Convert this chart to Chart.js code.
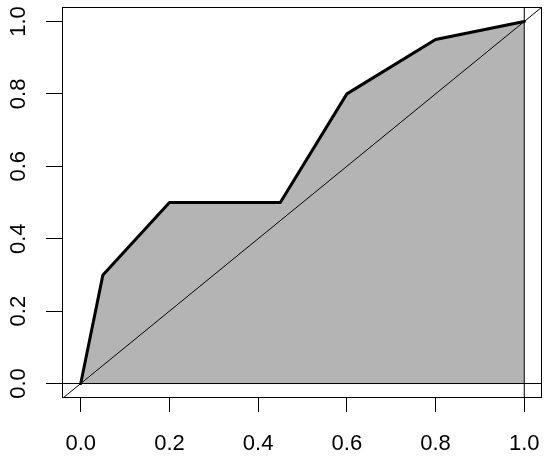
<!DOCTYPE html>
<html lang="en">
<head>
<meta charset="UTF-8">
<title>Curve vs diagonal</title>
<script src="https://cdn.jsdelivr.net/npm/chart.js"></script>
<style>
    body { margin: 0; background: #fff; }
    canvas { display: block; }
</style>
</head>
<body>
<canvas id="chart" width="551" height="463"></canvas>
<script>
// curve points
const curveX = [0, 0.05, 0.2, 0.45, 0.6, 0.8, 1.0];
const curveY = [0, 0.3, 0.5, 0.5, 0.8, 0.95, 1.0];

// tick labels on both axes
const tickValues = [0, 0.2, 0.4, 0.6, 0.8, 1.0];

// axis range (R style 4% extension)
const axisMin = -0.04;
const axisMax = 1.04;

// reference lines: diagonal y = x, h = 0, v = 1
const diagX = [axisMin, axisMax];
const diagY = [axisMin, axisMax];
const hLineX = [axisMin, axisMax];
const hLineY = [0, 0];
const vLineX = [1, 1];
const vLineY = [axisMin, axisMax];

const FONT = 'Liberation Sans, Arial, sans-serif';

function pts(xs, ys) {
    return xs.map((x, i) => ({ x: x, y: ys[i] }));
}

function thinLine(xs, ys, order) {
    return {
        data: pts(xs, ys),
        borderColor: '#000',
        borderWidth: 1,
        pointRadius: 0,
        fill: false,
        order: order
    };
}

// box around plot + rotated y labels
const boxPlugin = {
    id: 'rbox',
    afterDraw(chart) {
        const ctx = chart.ctx;
        const a = chart.chartArea;
        ctx.save();
        ctx.strokeStyle = '#000';
        ctx.lineWidth = 1;
        ctx.strokeRect(Math.round(a.left) - 0.5, Math.round(a.top) + 0.5,
            Math.round(a.right - a.left), Math.round(a.bottom - a.top) - 1);

        const ys = chart.scales.y;
        ctx.fillStyle = '#000';
        ctx.font = '22px ' + FONT;
        ctx.textAlign = 'center';
        ctx.textBaseline = 'middle';
        ys.ticks.forEach(t => {
            const py = ys.getPixelForValue(t.value);
            ctx.save();
            ctx.translate(19, py);
            ctx.rotate(-Math.PI / 2);
            ctx.fillText(t.value.toFixed(1), 0, 0);
            ctx.restore();
        });
        ctx.restore();
    }
};

function setTicks(scale) {
    scale.ticks = tickValues.map(v => ({ value: v }));
}

// no label overhang padding, fixed axis sizes
function fitX(s) {
    s.height = 65;
    s.paddingLeft = 0;
    s.paddingRight = 0;
}
function fitY(s) {
    s.width = 63;
    s.paddingTop = 0;
    s.paddingBottom = 0;
}

new Chart(document.getElementById('chart'), {
    type: 'line',
    data: {
        datasets: [
            {
                data: pts(curveX, curveY),
                borderColor: '#000',
                borderWidth: 3,
                borderJoinStyle: 'round',
                borderCapStyle: 'round',
                backgroundColor: '#B4B4B4',
                pointRadius: 0,
                fill: 'origin',
                order: 0
            },
            thinLine(diagX, diagY, 1),
            thinLine(hLineX, hLineY, 2),
            thinLine(vLineX, vLineY, 3)
        ]
    },
    options: {
        responsive: false,
        animation: false,
        layout: { padding: { top: 7, right: 9, left: 0, bottom: 0 } },
        plugins: {
            legend: { display: false },
            tooltip: { enabled: false },
            filler: { drawTime: 'beforeDatasetsDraw' }
        },
        scales: {
            x: {
                type: 'linear',
                min: axisMin,
                max: axisMax,
                afterBuildTicks: setTicks,
                afterFit: fitX,
                grid: { drawOnChartArea: false, drawTicks: true, tickLength: 14, color: '#000', lineWidth: 1 },
                border: { display: false },
                ticks: {
                    color: '#000',
                    padding: 19,
                    maxRotation: 0,
                    autoSkip: false,
                    font: { size: 22, family: FONT },
                    callback: v => v.toFixed(1)
                }
            },
            y: {
                type: 'linear',
                min: axisMin,
                max: axisMax,
                afterBuildTicks: setTicks,
                afterFit: fitY,
                grid: { drawOnChartArea: false, drawTicks: true, tickLength: 17, color: '#000', lineWidth: 1 },
                border: { display: false },
                ticks: { display: false }
            }
        }
    },
    plugins: [boxPlugin]
});
</script>
</body>
</html>
